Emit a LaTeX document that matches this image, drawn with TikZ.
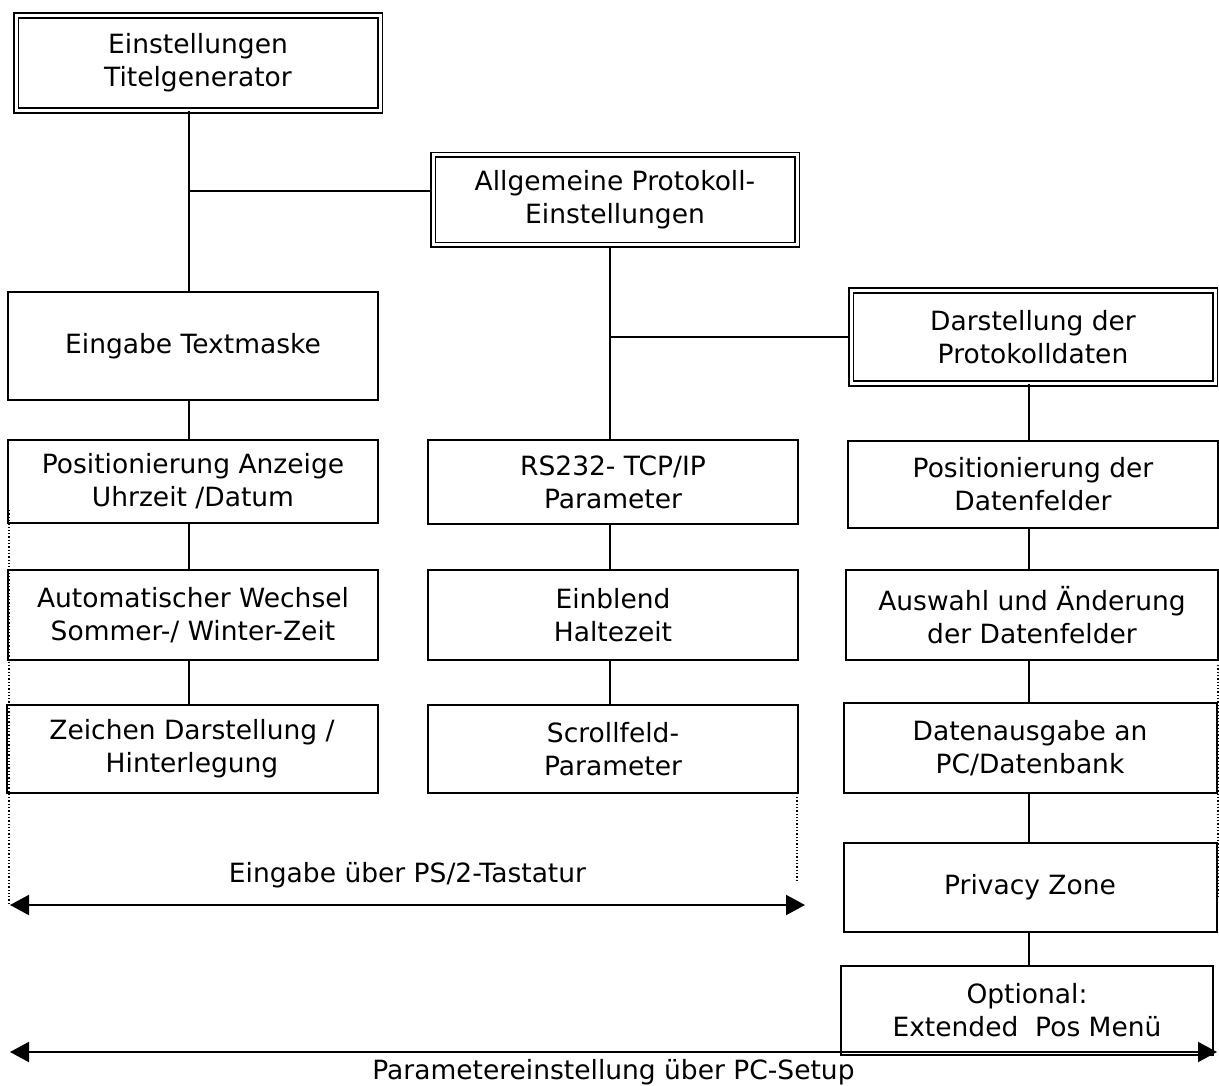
\documentclass[tikz,border=0pt]{standalone}
\usepackage{fontspec}
\setmainfont{DejaVu Sans}
\usetikzlibrary{arrows.meta}

\begin{document}
\begin{tikzpicture}[x=1pt, y=-1pt,
    every node/.style={font=\fontsize{26.5}{33}\selectfont, align=center, inner sep=0pt},
    menubox/.style={draw, line width=2pt},
    mainbox/.style={draw, double, line width=1.6pt, double distance=3pt},
    link/.style={line width=2pt},
    guide/.style={dotted, line width=1.3pt},
    span/.style={line width=2pt, {Triangle[length=19pt,width=20pt]}-{Triangle[length=19pt,width=20pt]}}]

    \useasboundingbox (0,0) rectangle (1219,1086);

    % Main boxes (double frame)
    \node[mainbox, minimum width=364pt, minimum height=95pt] (titel) at (198,63) {Einstellungen\\Titelgenerator};
    \node[mainbox, minimum width=364pt, minimum height=90pt] (allg) at (615,200) {Allgemeine Protokoll-\\Einstellungen};
    \node[mainbox, minimum width=364pt, minimum height=93pt] (darst) at (1033,337) {Darstellung der\\Protokolldaten};

    % Left column
    \node[menubox, minimum width=370pt, minimum height=108pt] (text) at (193,346) {Eingabe Textmaske};
    \node[menubox, minimum width=370pt, minimum height=83pt] (uhr) at (193,481) {Positionierung Anzeige\\Uhrzeit /Datum};
    \node[menubox, minimum width=370pt, minimum height=90pt] (wechsel) at (193,615) {Automatischer Wechsel\\Sommer-/ Winter-Zeit};
    \node[menubox, minimum width=371pt, minimum height=88pt] (zeichen) at (192,749) {Zeichen Darstellung /\\Hinterlegung};

    % Middle column
    \node[menubox, minimum width=370pt, minimum height=84pt] (rs) at (613,482) {RS232- TCP/IP\\Parameter};
    \node[menubox, minimum width=370pt, minimum height=90pt] (halte) at (613,615) {Einblend\\Haltezeit};
    \node[menubox, minimum width=370pt, minimum height=88pt] (scroll) at (613,749) {Scrollfeld-\\Parameter};

    % Right column
    \node[menubox, minimum width=370pt, minimum height=87pt] (felder) at (1033,484) {Positionierung der\\Datenfelder};
    \node[menubox, minimum width=372pt, minimum height=90pt] (auswahl) at (1032,615) {Auswahl und Änderung\\der Datenfelder};
    \node[menubox, minimum width=373pt, minimum height=90pt] (ausgabe) at (1030,748) {Datenausgabe an\\PC/Datenbank};
    \node[menubox, minimum width=373pt, minimum height=89pt] (privacy) at (1030,887) {Privacy Zone};
    \node[menubox, minimum width=372pt, minimum height=89pt] (pos) at (1027,1010) {Optional:\\Extended\ \ Pos Menü};

    % Connectors
    \coordinate (lstem) at (189,0);
    \coordinate (mstem) at (610,0);
    \coordinate (rstem) at (1029,0);
    \draw[link] (titel.south -| lstem) -- (text.north -| lstem);
    \draw[link] (lstem |- 0,191) -- (allg.west |- 0,191);
    \draw[link] (text.south -| lstem) -- (uhr.north -| lstem);
    \draw[link] (uhr.south -| lstem) -- (wechsel.north -| lstem);
    \draw[link] (wechsel.south -| lstem) -- (zeichen.north -| lstem);

    \draw[link] (allg.south -| mstem) -- (rs.north -| mstem);
    \draw[link] (mstem |- darst.west) -- (darst.west);
    \draw[link] (rs.south -| mstem) -- (halte.north -| mstem);
    \draw[link] (halte.south -| mstem) -- (scroll.north -| mstem);

    \draw[link] (darst.south -| rstem) -- (felder.north -| rstem);
    \draw[link] (felder.south -| rstem) -- (auswahl.north -| rstem);
    \draw[link] (auswahl.south -| rstem) -- (ausgabe.north -| rstem);
    \draw[link] (ausgabe.south -| rstem) -- (privacy.north -| rstem);
    \draw[link] (privacy.south -| rstem) -- (pos.north -| rstem);

    % Dotted guides
    \coordinate (g1a) at (9,510);    \coordinate (g1b) at (9,905);
    \coordinate (g2a) at (797,797);  \coordinate (g2b) at (797,882);
    \coordinate (g3a) at (1218,665); \coordinate (g3b) at (1218,897);
    \draw[guide] (g1a) -- (g1b);
    \draw[guide] (g2a) -- (g2b);
    \draw[guide] (g3a) -- (g3b);

    % Ranges
    \coordinate (ps_l) at (10,905);  \coordinate (ps_r) at (805,905);
    \coordinate (pc_l) at (10,1052); \coordinate (pc_r) at (1217,1052);
    \draw[span] (ps_l) -- (ps_r) node[midway, above=16pt] (pslabel) {Eingabe über PS/2-Tastatur};
    \draw[span] (pc_l) -- (pc_r) node[midway, below=6pt] (pclabel) {Parametereinstellung über PC-Setup};

\end{tikzpicture}
\end{document}
